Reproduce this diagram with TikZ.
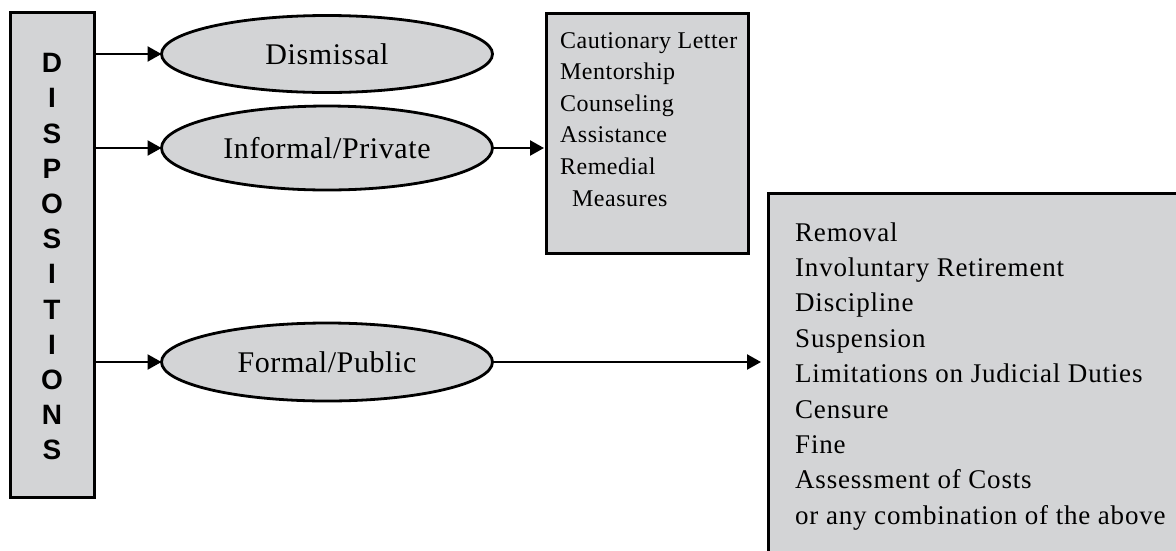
\documentclass[tikz,border=0pt]{standalone}
\usepackage{fontspec}
\setmainfont{Liberation Serif}
\newfontfamily\dispf{Liberation Sans}
\newfontfamily\ovalf{Liberation Serif}[LetterSpace=2]
\newfontfamily\smallf{Liberation Serif}[LetterSpace=2]
\newfontfamily\bigf{Liberation Serif}[LetterSpace=3]
\usetikzlibrary{arrows.meta,shapes.geometric}
\definecolor{boxgray}{RGB}{211,212,214}
\begin{document}
\begin{tikzpicture}[x=1pt,y=-1pt,
  box/.style={draw=black, line width=3pt, fill=boxgray, inner sep=0pt, outer sep=0pt},
  oval/.style={ellipse, draw=black, line width=2.8pt, fill=boxgray, inner sep=0pt, outer sep=0pt,
    minimum width=331pt, minimum height=78pt, font=\ovalf\fontsize{30}{34}\selectfont},
  arr/.style={line width=2.3pt, -{Triangle[length=14pt,width=15pt]}},
  letter/.style={font=\dispf\bfseries\fontsize{28}{32}\selectfont, inner sep=0pt},
  sline/.style={anchor=base west, inner sep=0pt, font=\smallf\fontsize{24}{28}\selectfont},
  bline/.style={anchor=base west, inner sep=0pt, font=\bigf\fontsize{27}{32}\selectfont}
]
\useasboundingbox (0,0) rectangle (1176,550);
\clip (0,0) rectangle (1176,550);
% left box
\node[box, minimum width=84pt, minimum height=485pt] (disp) at (52,254.5) {};
\foreach \l [count=\i from 0] in {D,I,S,P,O,S,I,T,I,O,N,S}
  \node[letter] (d\i) at (52,{63+35.2*\i}) {\l};
% ellipses
\node[oval, minimum height=77pt] (dis) at (327,54) {Dismissal};
\node[oval, minimum height=84pt] (inf) at (327,148) {Informal/Private};
\node[oval] (for) at (327,362) {Formal/Public};
% boxes
\node[box, minimum width=202pt, minimum height=240pt] (sbox) at (647,133) {};
\node[box, anchor=north west, minimum width=460pt, minimum height=420pt] (bbox) at (768,193) {};
% arrows
\draw[arr] (disp.east |- dis.west) -- (dis.west);
\draw[arr] (disp.east |- inf.west) -- (inf.west);
\draw[arr] (disp.east |- for.west) -- (for.west);
\draw[arr, shorten >=2pt] (inf.east) -- (inf.east -| sbox.west);
\draw[arr, shorten >=7pt] (for.east) -- (for.east -| bbox.west);
% small box text
\node[sline] (s1) at (560,48) {Cautionary Letter};
\node[sline] (s2) at (560,79.6) {Mentorship};
\node[sline] (s3) at (560,111.2) {Counseling};
\node[sline] (s4) at (560,142.8) {Assistance};
\node[sline] (s5) at (560,174.4) {Remedial};
\node[sline] (s6) at (572,206) {Measures};
% big box text
\node[bline] (b1) at (795,241) {Removal};
\node[bline] (b2) at (795,276.4) {Involuntary Retirement};
\node[bline] (b3) at (795,311.8) {Discipline};
\node[bline] (b4) at (795,347.2) {Suspension};
\node[bline] (b5) at (795,382.6) {Limitations on Judicial Duties};
\node[bline] (b6) at (795,418) {Censure};
\node[bline] (b7) at (795,453.4) {Fine};
\node[bline] (b8) at (795,488.8) {Assessment of Costs};
\node[bline] (b9) at (795,524.2) {or any combination of the above};
\end{tikzpicture}
\end{document}
